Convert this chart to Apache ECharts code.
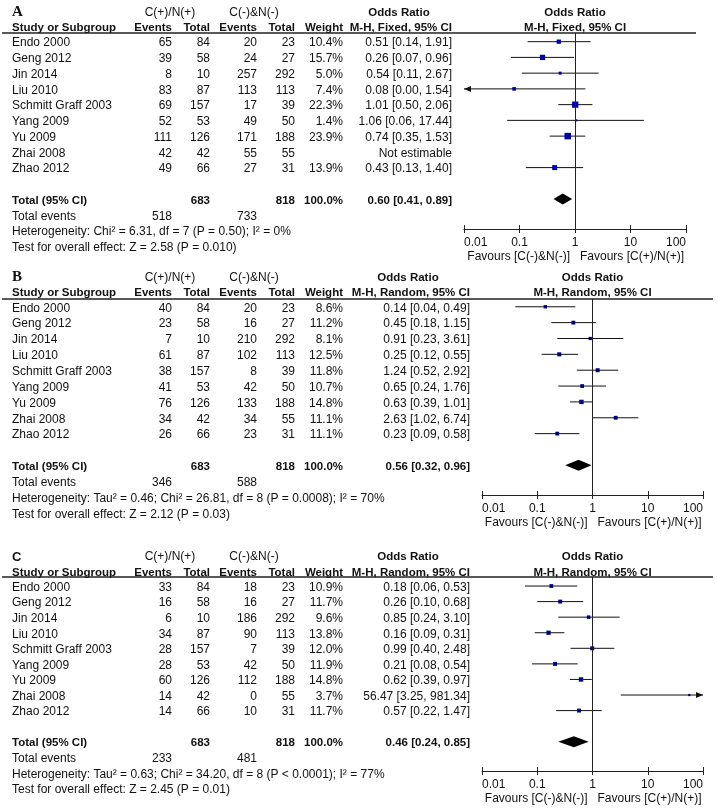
<!DOCTYPE html>
<html><head><meta charset="utf-8">
<script src="https://cdn.jsdelivr.net/npm/echarts@6/dist/echarts.min.js"></script>
<style>html,body{margin:0;padding:0;background:#fff}#chart{width:718px;height:812px}</style>
</head><body><div id="chart"></div>
<script>
// ---------------- DATA ----------------
const studies = ['Endo 2000','Geng 2012','Jin 2014','Liu 2010','Schmitt Graff 2003','Yang 2009','Yu 2009','Zhai 2008','Zhao 2012'];
const total1 = [84,58,10,87,157,53,126,42,66];
const total2 = [23,27,292,113,39,50,188,55,31];
const grandTotals = [683, 818];
const totalWeight = 100.0;
const tickLabels = ['0.01','0.1','1','10','100'];
const groupLabels = ['C(+)/N(+)','C(-)&N(-)'];
const favours = ['Favours [C(-)&N(-)]','Favours [C(+)/N(+)]'];
const panelLabels = ['A','B','C'];
const methods = ['M-H, Fixed, 95% CI','M-H, Random, 95% CI','M-H, Random, 95% CI'];

// Panel A
const aEvents1 = [65,39,8,83,69,52,111,42,49];
const aEvents2 = [20,24,257,113,17,49,171,55,27];
const aWeight  = [10.4,15.7,5.0,7.4,22.3,1.4,23.9,null,13.9];
const aOR = [0.51,0.26,0.54,0.08,1.01,1.06,0.74,null,0.43];
const aLo = [0.14,0.07,0.11,0.00,0.50,0.06,0.35,null,0.13];
const aHi = [1.91,0.96,2.67,1.54,2.06,17.44,1.53,null,1.40];
const aPooled = [0.60,0.41,0.89];
const aTotalEvents = [518,733];
const aHet = 'Heterogeneity: Chi\u00B2 = 6.31, df = 7 (P = 0.50); I\u00B2 = 0%';
const aTest = 'Test for overall effect: Z = 2.58 (P = 0.010)';

// Panel B
const bEvents1 = [40,23,7,61,38,41,76,34,26];
const bEvents2 = [20,16,210,102,8,42,133,34,23];
const bWeight  = [8.6,11.2,8.1,12.5,11.8,10.7,14.8,11.1,11.1];
const bOR = [0.14,0.45,0.91,0.25,1.24,0.65,0.63,2.63,0.23];
const bLo = [0.04,0.18,0.23,0.12,0.52,0.24,0.39,1.02,0.09];
const bHi = [0.49,1.15,3.61,0.55,2.92,1.76,1.01,6.74,0.58];
const bPooled = [0.56,0.32,0.96];
const bTotalEvents = [346,588];
const bHet = 'Heterogeneity: Tau\u00B2 = 0.46; Chi\u00B2 = 26.81, df = 8 (P = 0.0008); I\u00B2 = 70%';
const bTest = 'Test for overall effect: Z = 2.12 (P = 0.03)';

// Panel C
const cEvents1 = [33,16,6,34,28,28,60,14,14];
const cEvents2 = [18,16,186,90,7,42,112,0,10];
const cWeight  = [10.9,11.7,9.6,13.8,12.0,11.9,14.8,3.7,11.7];
const cOR = [0.18,0.26,0.85,0.16,0.99,0.21,0.62,56.47,0.57];
const cLo = [0.06,0.10,0.24,0.09,0.40,0.08,0.39,3.25,0.22];
const cHi = [0.53,0.68,3.10,0.31,2.48,0.54,0.97,981.34,1.47];
const cPooled = [0.46,0.24,0.85];
const cTotalEvents = [233,481];
const cHet = 'Heterogeneity: Tau\u00B2 = 0.63; Chi\u00B2 = 34.20, df = 8 (P < 0.0001); I\u00B2 = 77%';
const cTest = 'Test for overall effect: Z = 2.45 (P = 0.01)';

const panels = [
  {ev1:aEvents1, ev2:aEvents2, w:aWeight, or:aOR, lo:aLo, hi:aHi, pooled:aPooled, te:aTotalEvents, het:aHet, test:aTest},
  {ev1:bEvents1, ev2:bEvents2, w:bWeight, or:bOR, lo:bLo, hi:bHi, pooled:bPooled, te:bTotalEvents, het:bHet, test:bTest},
  {ev1:cEvents1, ev2:cEvents2, w:cWeight, or:cOR, lo:cLo, hi:cHi, pooled:cPooled, te:cTotalEvents, het:cHet, test:cTest}
];

// ---------------- LAYOUT / STYLE ----------------
const FF = '"Liberation Sans", Arial, sans-serif';
const FONT = '12px ' + FF;
const BOLD = 'bold 11.5px ' + FF;
const TXT = '#111';
const AX = '#222';
const TY = 1.5; // text baseline tweak
const layouts = [
  {left:464, width:222, top:33, height:196, ymin:-0.55, ymax:11.9, lineEnd:696, ciRight:452, orCenter:399, sq:1.33, sqColor:'#0000a8', labelFont:'bold 15px "Liberation Serif", "Times New Roman", serif'},
  {left:482, width:221, top:299, height:196, ymin:-0.49, ymax:11.87, lineEnd:713, ciRight:470, orCenter:408, sq:1.15, sqColor:'#000080', labelFont:'bold 15px "Liberation Serif", "Times New Roman", serif'},
  {left:482, width:221, top:577, height:194, ymin:-0.58, ymax:11.88, lineEnd:713, ciRight:470, orCenter:408, sq:1.15, sqColor:'#000080', labelFont:'bold 13px ' + FF}
];
const COLS = [172, 210, 257, 295, 343];

function txt(x, y, text, align, font) {
  return {type:'text', x:x, y:y + TY, silent:true, style:{text:text, font:font || FONT, fill:TXT, align:align, verticalAlign:'middle'}};
}
const f2 = v => v.toFixed(2);

const grids = [], xAxes = [], yAxes = [], series = [];
panels.forEach((p, gi) => {
  const L = layouts[gi];
  grids.push({left:L.left, top:L.top, width:L.width, height:L.height});
  const base = {type:'log', logBase:10, min:0.01, max:100, gridIndex:gi, splitLine:{show:false}};
  xAxes.push(Object.assign({}, base, {
    position:'bottom',
    axisLine:{show:true, onZero:false, lineStyle:{color:AX, width:1}},
    axisTick:{show:true, length:4, lineStyle:{color:AX, width:1}},
    axisLabel:{show:true, margin:8, fontSize:12, fontFamily:FF, color:TXT, alignMinLabel:'left', alignMaxLabel:'right',
      formatter: v => tickLabels[Math.round(Math.log10(v)) + 2]}
  }));
  // second axis moved onto the bottom edge so that its ticks rise above the axis line
  xAxes.push(Object.assign({}, base, {
    position:'top', offset:-L.height,
    axisLine:{show:false}, axisTick:{show:true, inside:false, length:4, lineStyle:{color:AX, width:1}}, axisLabel:{show:false}
  }));
  yAxes.push({type:'value', gridIndex:gi, inverse:true, min:L.ymin, max:L.ymax, show:false});
  const xi = gi * 2;

  // table body rows
  series.push({
    type:'custom', xAxisIndex:xi, yAxisIndex:gi, silent:true, clip:false, z:5,
    data: studies.map((s, i) => [1, i, i]), encode:{x:0, y:1},
    renderItem: function (params, api) {
      const i = api.value(2);
      const y = api.coord([1, api.value(1)])[1];
      const orTxt = p.or[i] == null ? 'Not estimable' : f2(p.or[i]) + ' [' + f2(p.lo[i]) + ', ' + f2(p.hi[i]) + ']';
      return {type:'group', children:[
        txt(12, y, studies[i], 'left'),
        txt(COLS[0], y, String(p.ev1[i]), 'right'),
        txt(COLS[1], y, String(total1[i]), 'right'),
        txt(COLS[2], y, String(p.ev2[i]), 'right'),
        txt(COLS[3], y, String(total2[i]), 'right'),
        txt(COLS[4], y, p.w[i] == null ? '' : p.w[i].toFixed(1) + '%', 'right'),
        txt(L.ciRight, y, orTxt, 'right')
      ]};
    }
  });

  // headers, totals, footer
  series.push({
    type:'custom', xAxisIndex:xi, yAxisIndex:gi, silent:true, clip:false, z:5,
    data: [[1, 0]], encode:{x:0, y:1},
    renderItem: function (params, api) {
      const Y = r => api.coord([1, r])[1];
      const cx = api.coord([1, 0])[0];
      const yTop = Y(L.ymin), yBot = Y(L.ymax);
      const h1 = Y(-1.95), h2 = Y(-0.95);
      return {type:'group', children:[
        txt(12, h1, panelLabels[gi], 'left', L.labelFont),
        txt(170, h1, groupLabels[0], 'center'),
        txt(254, h1, groupLabels[1], 'center'),
        txt(L.orCenter, h1, 'Odds Ratio', 'center', BOLD),
        txt(cx, h1, 'Odds Ratio', 'center', BOLD),
        txt(12, h2, 'Study or Subgroup', 'left', BOLD),
        txt(COLS[0], h2, 'Events', 'right', BOLD),
        txt(COLS[1], h2, 'Total', 'right', BOLD),
        txt(COLS[2], h2, 'Events', 'right', BOLD),
        txt(COLS[3], h2, 'Total', 'right', BOLD),
        txt(COLS[4], h2, 'Weight', 'right', BOLD),
        txt(L.ciRight, h2, methods[gi], 'right', BOLD),
        txt(cx, h2, methods[gi], 'center', BOLD),
        {type:'line', silent:true, shape:{x1:2, y1:yTop, x2:L.lineEnd, y2:yTop}, style:{stroke:AX, lineWidth:1.5}},
        txt(12, Y(10), 'Total (95% CI)', 'left', BOLD),
        txt(COLS[1], Y(10), String(grandTotals[0]), 'right', BOLD),
        txt(COLS[3], Y(10), String(grandTotals[1]), 'right', BOLD),
        txt(COLS[4], Y(10), totalWeight.toFixed(1) + '%', 'right', BOLD),
        txt(L.ciRight, Y(10), f2(p.pooled[0]) + ' [' + f2(p.pooled[1]) + ', ' + f2(p.pooled[2]) + ']', 'right', BOLD),
        txt(12, Y(11), 'Total events', 'left'),
        txt(COLS[0], Y(11), String(p.te[0]), 'right'),
        txt(COLS[2], Y(11), String(p.te[1]), 'right'),
        txt(12, Y(12), p.het, 'left'),
        txt(12, Y(13), p.test, 'left'),
        txt(cx - 5, yBot + 26, favours[0], 'right'),
        txt(cx + 5, yBot + 26, favours[1], 'left')
      ]};
    }
  });

  // confidence interval lines
  const ciData = [];
  studies.forEach((s, i) => { if (p.or[i] != null) ciData.push([p.lo[i], p.hi[i], i]); });
  series.push({
    type:'custom', xAxisIndex:xi, yAxisIndex:gi, silent:true, clip:false, z:3,
    data: ciData, encode:{x:[0,1], y:2},
    renderItem: function (params, api) {
      const lo = api.value(0), hi = api.value(1), r = api.value(2);
      const loC = Math.max(lo, 0.01), hiC = Math.min(hi, 100);
      const a = api.coord([loC, r]), b = api.coord([hiC, r]);
      const ch = [{type:'line', shape:{x1:a[0], y1:a[1], x2:b[0], y2:b[1]}, style:{stroke:'#111', lineWidth:1}}];
      if (lo < 0.01) ch.push({type:'polygon', shape:{points:[[a[0], a[1]], [a[0] + 7, a[1] - 3], [a[0] + 7, a[1] + 3]]}, style:{fill:'#111'}});
      if (hi > 100) ch.push({type:'polygon', shape:{points:[[b[0], b[1]], [b[0] - 7, b[1] - 3], [b[0] - 7, b[1] + 3]]}, style:{fill:'#111'}});
      return {type:'group', children:ch};
    }
  });

  // point estimates (squares)
  const sqData = [];
  studies.forEach((s, i) => { if (p.or[i] != null) sqData.push([p.or[i], i, p.w[i]]); });
  series.push({
    type:'scatter', xAxisIndex:xi, yAxisIndex:gi, silent:true, z:4,
    symbol:'rect', symbolSize: v => Math.max(2, L.sq * Math.sqrt(v[2])),
    itemStyle:{color:L.sqColor, opacity:1},
    data: sqData,
    markLine:{silent:true, symbol:'none', label:{show:false}, animation:false,
      lineStyle:{color:AX, type:'solid', width:1}, data:[{xAxis:1}]}
  });

  // pooled diamond
  series.push({
    type:'custom', xAxisIndex:xi, yAxisIndex:gi, silent:true, clip:false, z:4,
    data: [[p.pooled[0], p.pooled[1], p.pooled[2], 10]], encode:{x:[1,2], y:3},
    renderItem: function (params, api) {
      const r = api.value(3);
      const c = api.coord([api.value(0), r]), l = api.coord([api.value(1), r]), h = api.coord([api.value(2), r]);
      return {type:'polygon', shape:{points:[[l[0], c[1]], [c[0], c[1] - 5.5], [h[0], c[1]], [c[0], c[1] + 5.5]]}, style:{fill:'#000'}};
    }
  });
});

const chart = echarts.init(document.getElementById('chart'), null, {renderer:'canvas', width:718, height:812});
chart.setOption({
  animation:false,
  backgroundColor:'#fff',
  grid: grids, xAxis: xAxes, yAxis: yAxes, series: series
});
</script>
</body></html>
